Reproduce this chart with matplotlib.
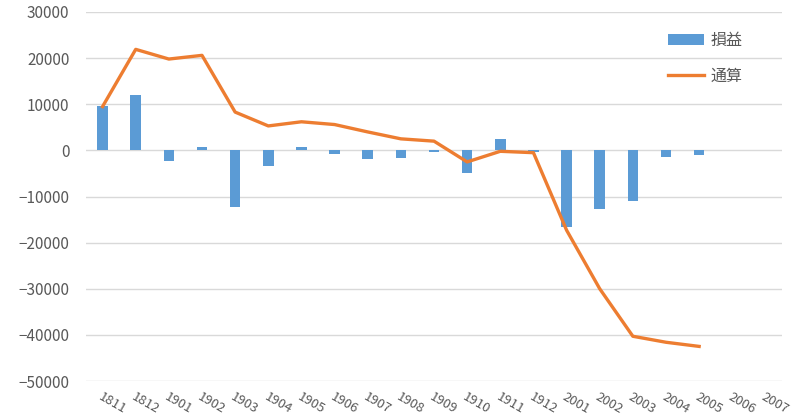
import numpy as np
import matplotlib.pyplot as plt

plt.rcParams['font.family'] = ['Noto Sans CJK JP', 'DejaVu Sans']

# データ
periods = ['1811', '1812', '1901', '1902', '1903', '1904', '1905', '1906', '1907',
           '1908', '1909', '1910', '1911', '1912', '2001', '2002', '2003', '2004',
           '2005', '2006', '2007']
profit = [9700, 11900, -2200, 700, -12200, -3300, 700, -700, -1900,
          -1600, -400, -4800, 2400, -300, -16700, -12800, -10900, -1500,
          -1100, np.nan, np.nan]
total = [9500, 21900, 19800, 20600, 8300, 5300, 6200, 5600, 4000,
         2500, 2000, -2500, -200, -500, -17300, -30000, -40300, -41600,
         -42500, np.nan, np.nan]

blue = '#5B9BD5'
orange = '#ED7D31'
gray = '#595959'

fig = plt.figure(figsize=(8, 4.18), dpi=100)
ax = fig.add_axes([0.1075, 0.0885, 0.87, 0.8828])

x = np.arange(len(periods))
bars = ax.bar(x, profit, width=0.32, color=blue, label='損益', zorder=2)
line, = ax.plot(x, total, color=orange, linewidth=2.4, label='通算', zorder=3,
                solid_joinstyle='round')

ax.set_xlim(-0.5, len(periods) - 0.5)
ax.set_ylim(-50000, 30000)
ax.set_yticks(np.arange(-50000, 30001, 10000))
ax.yaxis.grid(True, color='#D9D9D9', linewidth=1, zorder=0)
ax.set_axisbelow(True)

for s in ax.spines.values():
    s.set_visible(False)

ax.tick_params(axis='both', length=0, colors=gray, labelsize=11)
ax.tick_params(axis='y', pad=12)
ax.set_xticks(x)
ax.set_xticklabels(periods, rotation=-30, ha='left', va='top',
                   rotation_mode='anchor', fontsize=9.5)
ax.tick_params(axis='x', pad=7)

ax.legend([bars, line], ['損益', '通算'], loc='upper left',
          bbox_to_anchor=(0.815, 0.985), frameon=False,
          fontsize=11.5, labelcolor=gray, handlelength=2.3,
          labelspacing=1.2, handletextpad=0.4)

fig.savefig('out.png', dpi=100)
